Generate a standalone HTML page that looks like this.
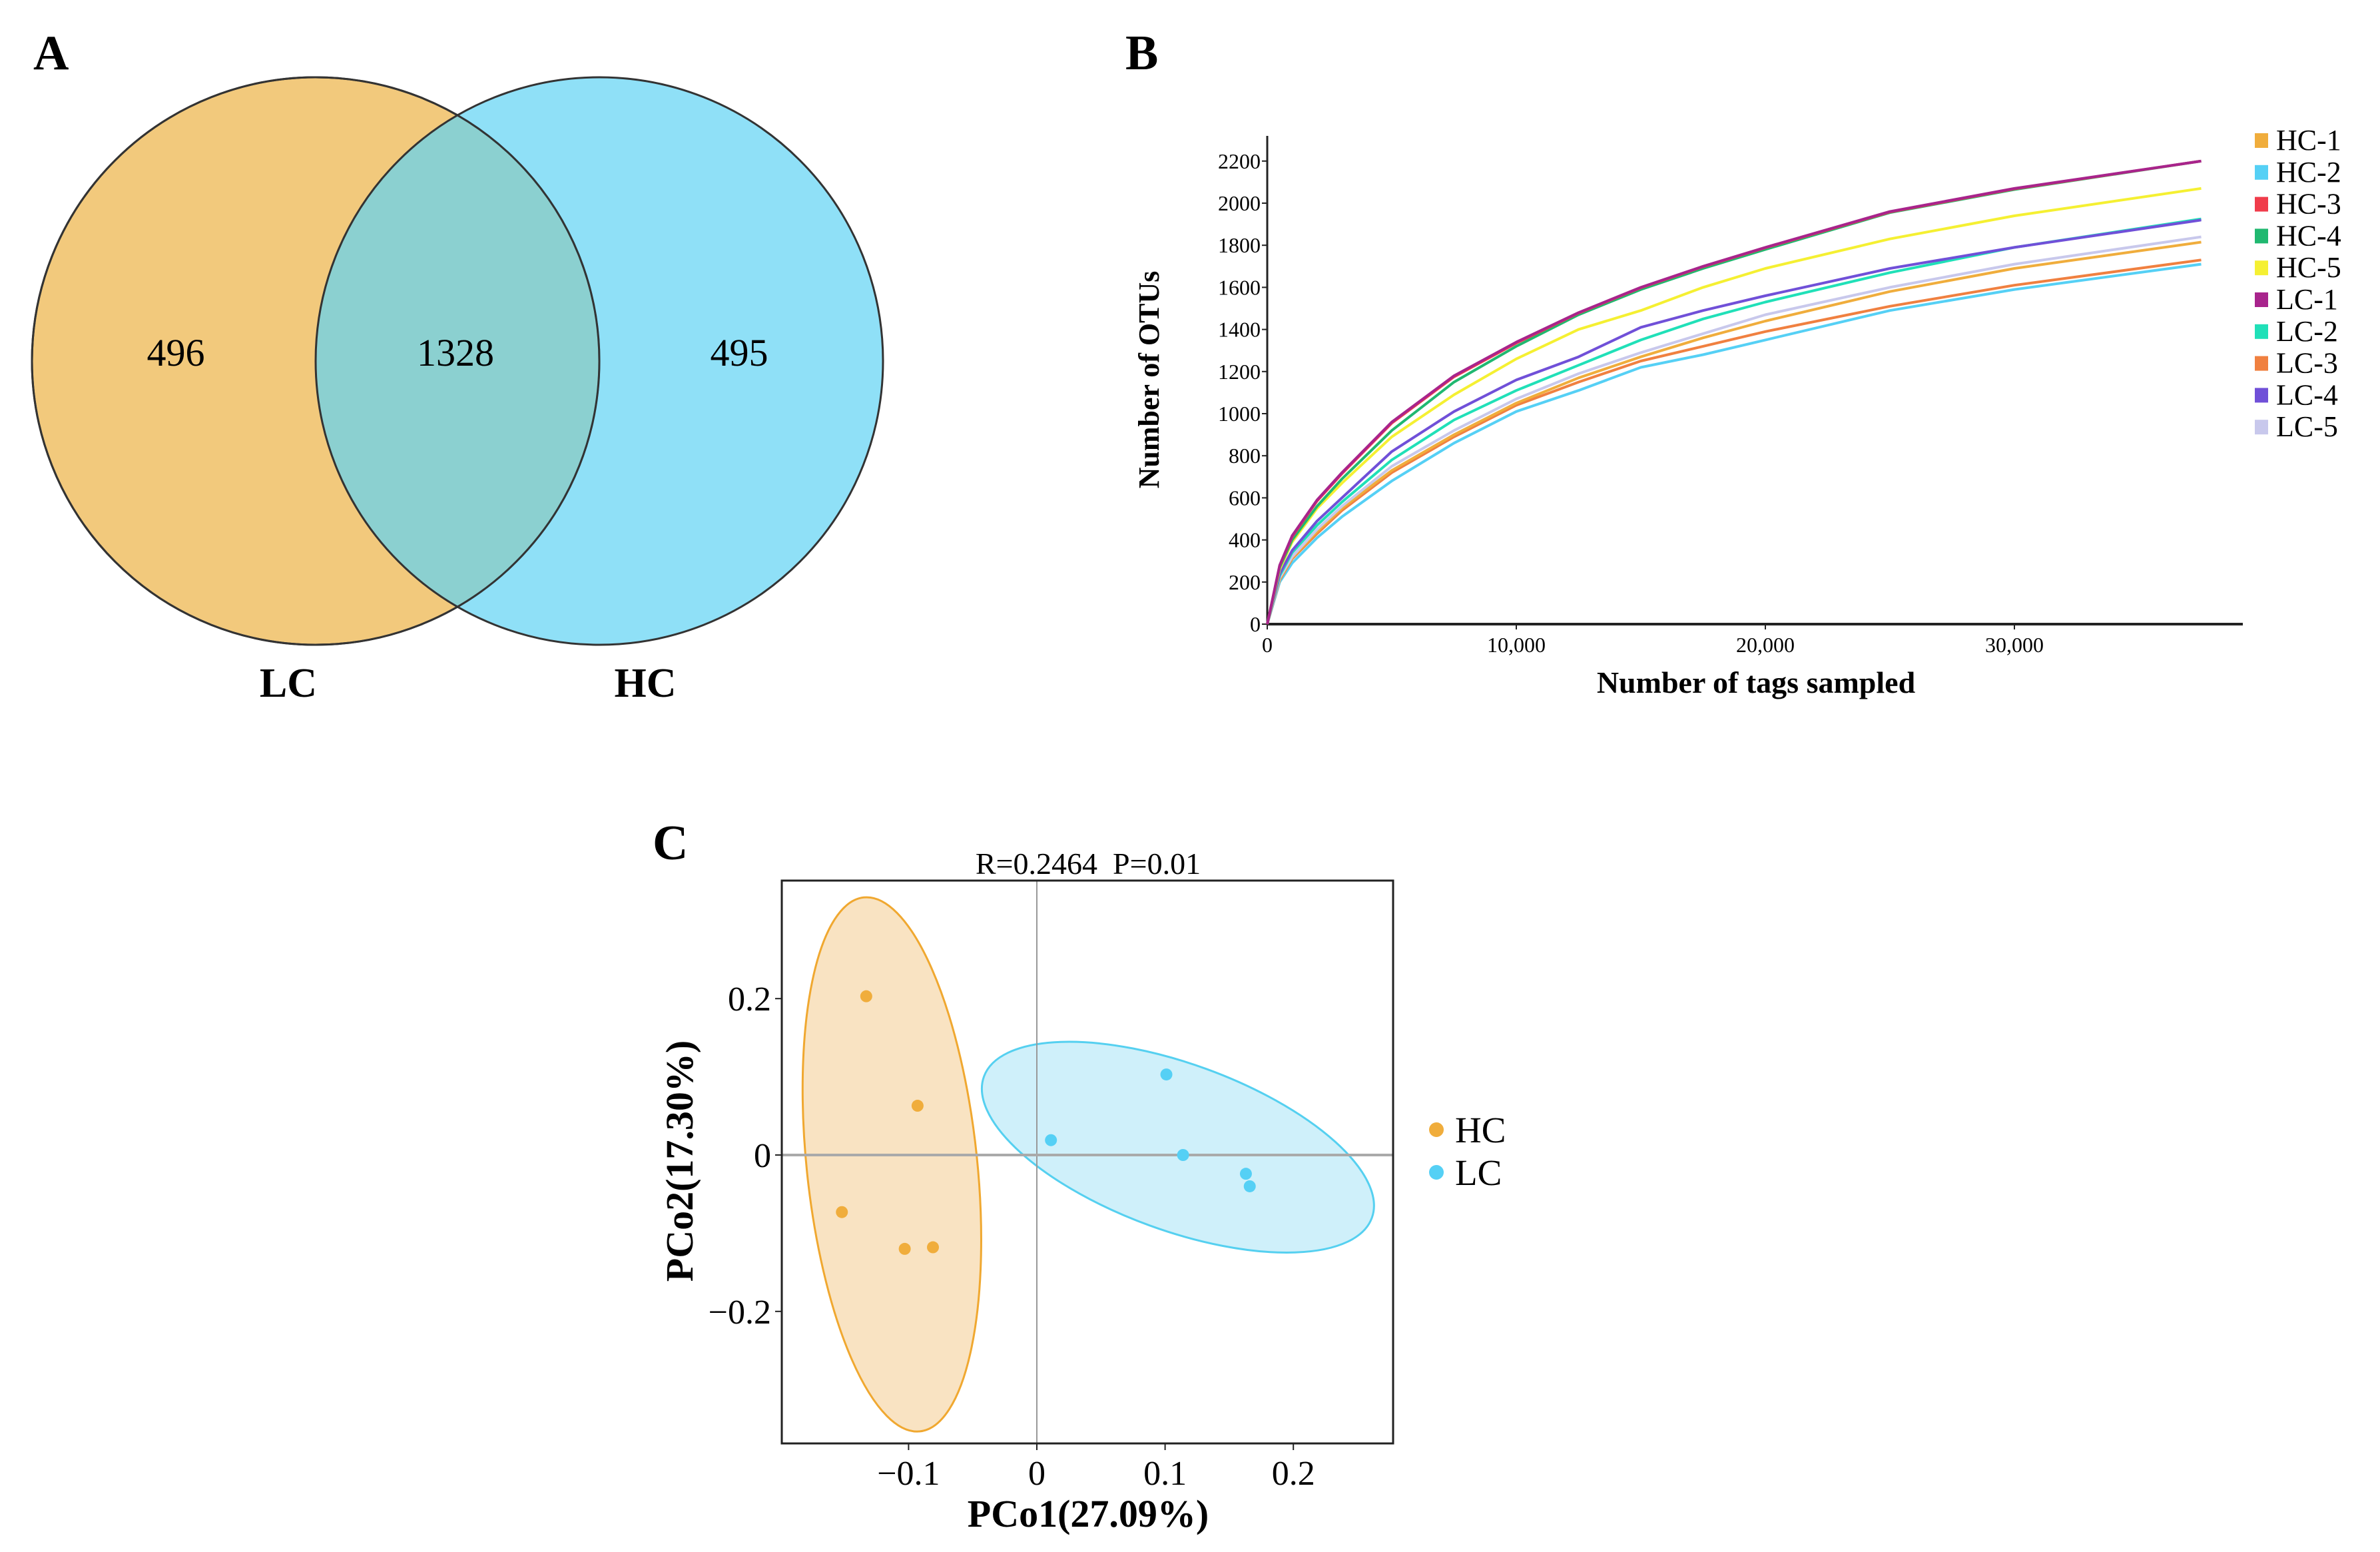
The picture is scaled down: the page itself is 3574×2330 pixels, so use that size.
<!DOCTYPE html>
<html><head><meta charset="utf-8"><style>
html,body{margin:0;padding:0;background:#fff;}
svg{display:block;font-family:"Liberation Serif",serif;}
</style></head><body>
<svg width="3574" height="2330" viewBox="0 0 3574 2330" xmlns="http://www.w3.org/2000/svg">
<g>
<text x="50" y="104" font-size="74" font-weight="bold">A</text>
<circle cx="474" cy="542" r="426" fill="#f2c97c" stroke="#333" stroke-width="3"/>
<circle cx="900" cy="542" r="426" fill="#5fd3f3" fill-opacity="0.7" stroke="#333" stroke-width="3"/>
<circle cx="474" cy="542" r="426" fill="none" stroke="#333" stroke-width="3"/>
<text x="264" y="549" font-size="58" text-anchor="middle">496</text>
<text x="684" y="549" font-size="58" text-anchor="middle">1328</text>
<text x="1110" y="549" font-size="58" text-anchor="middle">495</text>
<text x="433" y="1046" font-size="62" font-weight="bold" text-anchor="middle">LC</text>
<text x="969" y="1046" font-size="62" font-weight="bold" text-anchor="middle">HC</text>
</g>
<text x="1690" y="104" font-size="74" font-weight="bold">B</text>
<g id="rare"></g>
<text x="980" y="1290" font-size="74" font-weight="bold">C</text>
<g id="pcoa"></g>
</svg>
<script>
const NS="http://www.w3.org/2000/svg";
function mk(parent,tag,attrs,text){const e=document.createElementNS(NS,tag);for(const k in attrs)e.setAttribute(k,attrs[k]);if(text!==undefined)e.textContent=text;parent.appendChild(e);return e;}

const tagSamples=[0,500,1000,2000,3000,5000,7500,10000,12500,15000,17500,20000,25000,30000,37500];
const seriesNames=["HC-1","HC-2","HC-3","HC-4","HC-5","LC-1","LC-2","LC-3","LC-4","LC-5"];
const seriesColors=["#f0ad3c","#55d0f5","#f03c4b","#20b870","#f5f032","#a8248c","#20e0b8","#f08040","#7050d8","#c8c8ec"];
const hc1=[0,215,315,440,550,730,900,1050,1170,1270,1360,1440,1580,1690,1815];
const hc2=[0,200,290,410,510,680,860,1010,1110,1220,1280,1350,1490,1590,1710];
const hc3=[0,278,415,585,715,955,1175,1335,1478,1598,1698,1788,1958,2068,2200];
const hc4=[0,270,400,560,690,920,1150,1320,1470,1590,1690,1780,1955,2065,2200];
const hc5=[0,260,390,550,670,890,1090,1260,1400,1490,1600,1690,1830,1940,2070];
const lc1=[0,280,420,590,720,960,1180,1340,1480,1600,1700,1790,1960,2070,2200];
const lc2=[0,230,340,470,580,780,970,1110,1230,1350,1450,1530,1670,1790,1925];
const lc3=[0,210,310,430,540,720,890,1040,1150,1250,1320,1390,1510,1610,1730];
const lc4=[0,240,350,490,600,820,1010,1160,1270,1410,1490,1560,1690,1790,1920];
const lc5=[0,220,320,450,560,750,920,1070,1190,1290,1380,1470,1600,1710,1840];
const otuSeries=[hc1,hc2,hc3,hc4,hc5,lc1,lc2,lc3,lc4,lc5];
const otuTicks=[0,200,400,600,800,1000,1200,1400,1600,1800,2000,2200];
const tagTicks=[0,10000,20000,30000];
const tagTickLabels=["0","10,000","20,000","30,000"];

const hcX=[-0.133,-0.093,-0.152,-0.103,-0.081];
const hcY=[0.203,0.063,-0.073,-0.120,-0.118];
const lcX=[0.101,0.011,0.114,0.163,0.166];
const lcY=[0.103,0.019,0.000,-0.024,-0.040];
const pcoXTicks=[-0.1,0,0.1,0.2];
const pcoXLabels=["\u22120.1","0","0.1","0.2"];
const pcoYTicks=[-0.2,0,0.2];
const pcoYLabels=["\u22120.2","0","0.2"];
const hcEllipseCenter=[-0.113,-0.012];
const lcEllipseCenter=[0.110,0.010];

(function(){
 const g=document.getElementById('rare');
 const X0=1903,XR=3368,Y0=937,YT=204;
 const xs=v=>X0+v/10000*374;
 const ys=v=>Y0-v/200*63.2;
 let e=mk(g,'line',{x1:X0,y1:YT,x2:X0,y2:Y0,stroke:'#222','stroke-width':3});
 
 
 e=mk(g,'line',{x1:X0,y1:Y0,x2:XR,y2:Y0,stroke:'#222','stroke-width':4});
 
 
 otuTicks.forEach(t=>{
  mk(g,'line',{x1:X0-8,y1:ys(t),x2:X0,y2:ys(t),stroke:'#222','stroke-width':2});
  const tx=mk(g,'text',{x:X0-10,y:ys(t)+11,'font-size':32,'text-anchor':'end'},String(t));
  
  
 });
 tagTicks.forEach((t,i)=>{
  mk(g,'line',{x1:xs(t),y1:Y0,x2:xs(t),y2:Y0+8,stroke:'#222','stroke-width':2});
  const tx=mk(g,'text',{x:xs(t),y:Y0+42,'font-size':32,'text-anchor':'middle'},tagTickLabels[i]);
  
  
 });
 e=mk(g,'text',{x:0,y:0,'font-size':44,'font-weight':'bold','text-anchor':'middle',transform:'translate(1740,570) rotate(-90)'},'Number of OTUs');
 
 
 e=mk(g,'text',{x:2637,y:1040,'font-size':46,'font-weight':'bold','text-anchor':'middle'},'Number of tags sampled');
 
 
 const order=[1,7,0,9,6,8,4,3,2,5];
 order.forEach(i=>{
  const pts=otuSeries[i].map((v,j)=>xs(tagSamples[j]).toFixed(1)+','+ys(v).toFixed(1)).join(' ');
  const p=mk(g,'polyline',{points:pts,fill:'none',stroke:seriesColors[i],'stroke-width':4,'stroke-linejoin':'round'});
  
  
 });
 seriesNames.forEach((n,i)=>{
  const y=210+i*47.8;
  const r=mk(g,'rect',{x:3386,y:y-10,width:20,height:22,fill:seriesColors[i]});
  
  
  const t=mk(g,'text',{x:3418,y:y+15,'font-size':44},n);
  
  
 });
})();

(function(){
 const g=document.getElementById('pcoa');
 const L=1174,R=2092,T=1322,B=2167;
 const xs=v=>1557+v*1926;
 const ys=v=>1734-v*1174;
 const hcx=xs(hcEllipseCenter[0]),hcy=ys(hcEllipseCenter[1]);
 const lcx=xs(lcEllipseCenter[0]),lcy=ys(lcEllipseCenter[1]);
 let e=mk(g,'ellipse',{cx:hcx,cy:hcy,rx:128,ry:403,fill:'#f9e3c2',stroke:'#f0a830','stroke-width':3,transform:'rotate(-6 '+hcx+' '+hcy+')'});
 
 
 e=mk(g,'ellipse',{cx:lcx,cy:lcy,rx:310,ry:125,fill:'#cff0fa',stroke:'#55d0f0','stroke-width':3,transform:'rotate(20 '+lcx+' '+lcy+')'});
 
 
 e=mk(g,'line',{x1:xs(0),y1:T,x2:xs(0),y2:B,stroke:'#999','stroke-width':2});
 
 
 e=mk(g,'line',{x1:L,y1:ys(0),x2:R,y2:ys(0),stroke:'#aaa','stroke-width':4});
 
 
 hcX.forEach((x,i)=>{
  const c=mk(g,'circle',{cx:xs(x),cy:ys(hcY[i]),r:9,fill:'#f0ad3c'});
  
  
 });
 lcX.forEach((x,i)=>{
  const c=mk(g,'circle',{cx:xs(x),cy:ys(lcY[i]),r:9,fill:'#55d0f5'});
  
  
 });
 e=mk(g,'rect',{x:L,y:T,width:R-L,height:B-T,fill:'none',stroke:'#222','stroke-width':3});
 
 
 pcoXTicks.forEach((t,i)=>{
  mk(g,'line',{x1:xs(t),y1:B,x2:xs(t),y2:B+10,stroke:'#222','stroke-width':2});
  const tx=mk(g,'text',{x:xs(t),y:B+62,'font-size':52,'text-anchor':'middle'},pcoXLabels[i]);
  
  
 });
 pcoYTicks.forEach((t,i)=>{
  mk(g,'line',{x1:L-10,y1:ys(t),x2:L,y2:ys(t),stroke:'#222','stroke-width':2});
  const tx=mk(g,'text',{x:L-16,y:ys(t)+18,'font-size':52,'text-anchor':'end'},pcoYLabels[i]);
  
  
 });
 e=mk(g,'text',{x:1634,y:1312,'font-size':46,'text-anchor':'middle',style:'white-space:pre'},'R=0.2464  P=0.01');
 
 
 e=mk(g,'text',{x:0,y:0,'font-size':58,'font-weight':'bold','text-anchor':'middle',transform:'translate(1040,1743) rotate(-90)'},'PCo2(17.30%)');
 
 
 e=mk(g,'text',{x:1634,y:2292,'font-size':58,'font-weight':'bold','text-anchor':'middle'},'PCo1(27.09%)');
 
 
 [['HC','#f0ad3c',1696],['LC','#55d0f5',1760]].forEach(([n,c,y])=>{
  const d=mk(g,'circle',{cx:2157,cy:y,r:11,fill:c});
  
  
  const t=mk(g,'text',{x:2185,y:y+19,'font-size':55},n);
  
  
 });
})();
</script>
</body></html>
